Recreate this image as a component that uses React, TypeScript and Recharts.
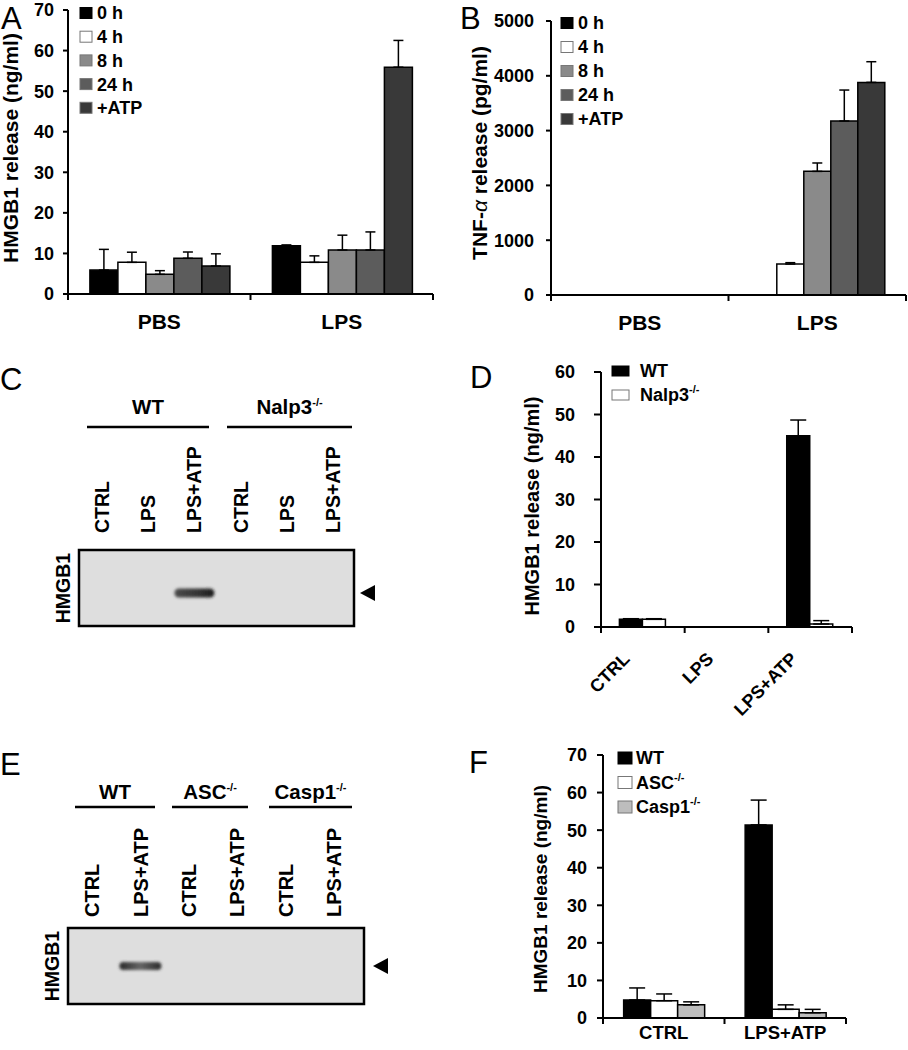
import React from 'react';
import { BarChart, Bar, XAxis, YAxis, ErrorBar } from 'recharts';

const FONT = "'Liberation Sans', Arial, Helvetica, sans-serif";

// ---------- Panel A: HMGB1 release (ng/ml) ----------
const aCategories = ['PBS', 'LPS'];
const timeLabels = ['0 h', '4 h', '8 h', '24 h', '+ATP'];
const timeColors = ['#000000', '#ffffff', '#8a8a8a', '#5c5c5c', '#393939'];
const aMean0h = [5.9, 11.9];
const aMean4h = [7.8, 7.8];
const aMean8h = [4.85, 10.85];
const aMean24h = [8.8, 10.85];
const aMeanATP = [6.9, 55.9];
const aErr0h = [5.1, 0.2];
const aErr4h = [2.5, 1.6];
const aErr8h = [0.9, 3.65];
const aErr24h = [1.55, 4.45];
const aErrATP = [3.0, 6.6];
const aTicks = [0, 10, 20, 30, 40, 50, 60, 70];

// ---------- Panel B: TNF-alpha release (pg/ml) ----------
const bCategories = ['PBS', 'LPS'];
const bMean0h = [0, 0];
const bMean4h = [0, 565];
const bMean8h = [0, 2256];
const bMean24h = [0, 3175];
const bMeanATP = [0, 3880];
const bErr0h = [0, 0];
const bErr4h = [0, 25];
const bErr8h = [0, 153];
const bErr24h = [0, 565];
const bErrATP = [0, 377];
const bTicks = [0, 1000, 2000, 3000, 4000, 5000];

// ---------- Panel D ----------
const dCategories = ['CTRL', 'LPS', 'LPS+ATP'];
const dSeries = ['WT', 'Nalp3'];
const dColors = ['#000000', '#ffffff'];
const dWT = [1.8, 0, 45.0];
const dWTErr = [0.15, 0, 3.7];
const dKO = [1.8, 0, 0.7];
const dKOErr = [0.15, 0, 0.8];
const dTicks = [0, 10, 20, 30, 40, 50, 60];

// ---------- Panel F ----------
const fCategories = ['CTRL', 'LPS+ATP'];
const fSeries = ['WT', 'ASC', 'Casp1'];
const fColors = ['#000000', '#ffffff', '#bdbdbd'];
const fWT = [4.8, 51.4];
const fWTErr = [3.2, 6.6];
const fASC = [4.6, 2.3];
const fASCErr = [1.8, 1.2];
const fCasp = [3.5, 1.4];
const fCaspErr = [0.8, 0.9];
const fTicks = [0, 10, 20, 30, 40, 50, 60, 70];

// ---------- Blots ----------
const cLanes = ['CTRL', 'LPS', 'LPS+ATP', 'CTRL', 'LPS', 'LPS+ATP'];
const cBand = [0, 0, 1, 0, 0, 0];
const eLanes = ['CTRL', 'LPS+ATP', 'CTRL', 'LPS+ATP', 'CTRL', 'LPS+ATP'];
const eBand = [0, 1, 0, 0, 0, 0];

const build = (cats: string[], means: number[][], errs: number[][]) =>
  cats.map((c, i) => {
    const row: any = { cat: c };
    means.forEach((m, k) => {
      row['v' + k] = m[i];
      row['e' + k] = [0, errs[k][i]];
    });
    return row;
  });

const dataA = build(aCategories, [aMean0h, aMean4h, aMean8h, aMean24h, aMeanATP], [aErr0h, aErr4h, aErr8h, aErr24h, aErrATP]);
const dataB = build(bCategories, [bMean0h, bMean4h, bMean8h, bMean24h, bMeanATP], [bErr0h, bErr4h, bErr8h, bErr24h, bErrATP]);
const dataD = build(dCategories, [dWT, dKO], [dWTErr, dKOErr]);
const dataF = build(fCategories, [fWT, fASC, fCasp], [fWTErr, fASCErr, fCaspErr]);

function CatTick(props: any) {
  const { x, y, payload, index, visibleTicksCount, count, labelDy = 30, fontSize = 20, rotated = false, tickLen = 6, rdx = -12, rdy = 33 } = props;
  const off = payload && typeof payload.offset === 'number' ? payload.offset : 0;
  const n = typeof visibleTicksCount === 'number' ? visibleTicksCount : count;
  const isLast = index === n - 1;
  const label = payload ? payload.value : '';
  return (
    <g>
      <line x1={x - off} x2={x - off} y1={y} y2={y + tickLen} stroke="#000" strokeWidth={2} />
      {isLast && <line x1={x + off} x2={x + off} y1={y} y2={y + tickLen} stroke="#000" strokeWidth={2} />}
      {rotated ? (
        <text
          x={x + rdx}
          y={y + rdy}
          transform={`rotate(-45 ${x + rdx} ${y + rdy})`}
          textAnchor="end"
          fontFamily={FONT}
          fontWeight={700}
          fontSize={fontSize}
          fill="#000"
        >
          {label}
        </text>
      ) : (
        <text x={x} y={y + labelDy} textAnchor="middle" fontFamily={FONT} fontWeight={700} fontSize={fontSize} fill="#000">
          {label}
        </text>
      )}
    </g>
  );
}

const axisStyle = { stroke: '#000', strokeWidth: 2 };
const yTick = (fs: number) => ({ fill: '#000', fontSize: fs, fontWeight: 700, fontFamily: FONT });

function Sup({ base, sup = '-/-' }: { base: string; sup?: string }) {
  return (
    <>
      {base}
      <tspan fontSize={11} dy={-8}>{sup}</tspan>
    </>
  );
}

function Legend({ labels, colors, x, y0, dy, w, h, tx, fs, sups }: any) {
  return (
    <g fontFamily={FONT} fontWeight={700} fontSize={fs}>
      {labels.map((l: string, i: number) => (
        <g key={i}>
          <rect x={x} y={y0 + i * dy - h / 2} width={w} height={h} fill={colors[i]} stroke={colors[i] === '#000000' ? '#000' : '#777'} strokeWidth={1} />
          <text x={tx} y={y0 + i * dy + fs * 0.36} fill="#000">
            {sups && sups[i] ? <Sup base={l} /> : l}
          </text>
        </g>
      ))}
    </g>
  );
}

function Blot({ lanes, bands, laneX0, laneDx, laneBottom, laneFs, box, bandY, bandW, bandH, arrowX, groups, groupY, lineY, labelX, gradId }: any) {
  return (
    <g fontFamily={FONT} fontWeight={700}>
      {groups.map((g: any, i: number) => (
        <g key={i}>
          <text x={(g.x1 + g.x2) / 2} y={groupY} textAnchor="middle" fontSize={20.5} fill="#000">
            {g.sup ? <Sup base={g.name} /> : g.name}
          </text>
          <line x1={g.x1} x2={g.x2} y1={lineY} y2={lineY} stroke="#000" strokeWidth={2.5} />
        </g>
      ))}
      {lanes.map((l: string, i: number) => {
        const lx = laneX0 + i * laneDx + laneFs * 0.36;
        return (
          <text key={i} x={lx} y={laneBottom} transform={`rotate(-90 ${lx} ${laneBottom})`} textAnchor="start" fontSize={laneFs} fill="#000">
            {l}
          </text>
        );
      })}
      <rect x={box.x} y={box.y} width={box.w} height={box.h} fill="#dedede" stroke="#000" strokeWidth={2.5} />
      {bands.map((b: number, i: number) =>
        b > 0 ? (
          <rect
            key={i}
            x={laneX0 + i * laneDx - bandW / 2}
            y={bandY - bandH / 2}
            width={bandW}
            height={bandH}
            rx={bandH / 2}
            fill={`url(#${gradId})`}
            filter="url(#blur)"
          />
        ) : null
      )}
      <polygon points={`${arrowX},${bandY} ${arrowX + 15},${bandY - 8} ${arrowX + 15},${bandY + 8}`} fill="#000" />
      <text x={labelX + 7} y={box.y + box.h / 2} transform={`rotate(-90 ${labelX + 7} ${box.y + box.h / 2})`} textAnchor="middle" fontSize={19.5} fill="#000">
        HMGB1
      </text>
    </g>
  );
}

export default function App() {
  return (
    <div style={{ position: 'absolute', left: 0, top: 0, width: 908, height: 1050, background: '#fff', fontFamily: FONT }}>
      {/* Panel A */}
      <div style={{ position: 'absolute', left: 0, top: 0 }}>
        <BarChart width={454} height={340} data={dataA} margin={{ top: 10, right: 21, bottom: 6, left: 0 }} barCategoryGap="12%" barGap={0}>
          <XAxis dataKey="cat" height={40} interval={0} axisLine={axisStyle} tickLine={false} tickSize={0} tickMargin={0} tick={<CatTick labelDy={35} fontSize={21} count={2} />} />
          <YAxis width={68} type="number" domain={[0, 70]} ticks={aTicks} interval={0} axisLine={axisStyle} tickLine={axisStyle} tickSize={5} tickMargin={9} tick={yTick(18)} />
          {timeLabels.map((t, k) => (
            <Bar key={t} dataKey={'v' + k} name={t} fill={timeColors[k]} stroke="#000" strokeWidth={1.5} isAnimationActive={false}>
              <ErrorBar dataKey={'e' + k} width={5} stroke="#000" strokeWidth={1.5} direction="y" />
            </Bar>
          ))}
        </BarChart>
      </div>

      {/* Panel B */}
      <div style={{ position: 'absolute', left: 454, top: 0 }}>
        <BarChart width={454} height={340} data={dataB} margin={{ top: 21, right: 2, bottom: 5, left: 0 }} barCategoryGap="12%" barGap={0}>
          <XAxis dataKey="cat" height={40} interval={0} axisLine={axisStyle} tickLine={false} tickSize={0} tickMargin={0} tick={<CatTick labelDy={35} fontSize={21} count={2} />} />
          <YAxis width={97} type="number" domain={[0, 5000]} ticks={bTicks} interval={0} axisLine={axisStyle} tickLine={axisStyle} tickSize={5} tickMargin={12} tick={yTick(18)} />
          {timeLabels.map((t, k) => (
            <Bar key={t} dataKey={'v' + k} name={t} fill={timeColors[k]} stroke="#000" strokeWidth={1.5} isAnimationActive={false}>
              <ErrorBar dataKey={'e' + k} width={5} stroke="#000" strokeWidth={1.5} direction="y" />
            </Bar>
          ))}
        </BarChart>
      </div>

      {/* Panel D */}
      <div style={{ position: 'absolute', left: 454, top: 330 }}>
        <BarChart width={454} height={400} data={dataD} margin={{ top: 42, right: 56, bottom: 0, left: 0 }} barCategoryGap="22%" barGap={0}>
          <XAxis dataKey="cat" height={103} interval={0} axisLine={axisStyle} tickLine={false} tickSize={0} tickMargin={0} tick={<CatTick rotated fontSize={18} count={3} tickLen={6} rdx={-12} rdy={33} />} />
          <YAxis width={147} type="number" domain={[0, 60]} ticks={dTicks} interval={0} axisLine={axisStyle} tickLine={axisStyle} tickSize={7} tickMargin={19} tick={yTick(18)} />
          {dSeries.map((s, k) => (
            <Bar key={s} dataKey={'v' + k} name={s} fill={dColors[k]} stroke="#000" strokeWidth={1.5} isAnimationActive={false}>
              <ErrorBar dataKey={'e' + k} width={8} stroke="#000" strokeWidth={1.5} direction="y" />
            </Bar>
          ))}
        </BarChart>
      </div>

      {/* Panel F */}
      <div style={{ position: 'absolute', left: 454, top: 690 }}>
        <BarChart width={454} height={360} data={dataF} margin={{ top: 65, right: 62, bottom: 2, left: 0 }} barCategoryGap="17%" barGap={0}>
          <XAxis dataKey="cat" height={30} interval={0} axisLine={axisStyle} tickLine={false} tickSize={0} tickMargin={0} tick={<CatTick labelDy={21} fontSize={18.5} count={2} />} />
          <YAxis width={149} type="number" domain={[0, 70]} ticks={fTicks} interval={0} axisLine={axisStyle} tickLine={axisStyle} tickSize={6} tickMargin={10} tick={yTick(18)} />
          {fSeries.map((s, k) => (
            <Bar key={s} dataKey={'v' + k} name={s} fill={fColors[k]} stroke="#000" strokeWidth={1.5} isAnimationActive={false}>
              <ErrorBar dataKey={'e' + k} width={8} stroke="#000" strokeWidth={1.5} direction="y" />
            </Bar>
          ))}
        </BarChart>
      </div>

      {/* Annotations overlay */}
      <svg width={908} height={1050} style={{ position: 'absolute', left: 0, top: 0, pointerEvents: 'none' }}>
        <defs>
          <filter id="blur" x="-30%" y="-100%" width="160%" height="300%">
            <feGaussianBlur stdDeviation="1.6" />
          </filter>
          <linearGradient id="bandC" x1="0" x2="1" y1="0" y2="0">
            <stop offset="0" stopColor="#4a4a4a" />
            <stop offset="0.6" stopColor="#333" />
            <stop offset="1" stopColor="#1a1a1a" />
          </linearGradient>
          <linearGradient id="bandE" x1="0" x2="1" y1="0" y2="0">
            <stop offset="0" stopColor="#2a2a2a" />
            <stop offset="0.5" stopColor="#666" />
            <stop offset="1" stopColor="#2a2a2a" />
          </linearGradient>
        </defs>

        {/* panel letters */}
        <g fontFamily={FONT} fontSize={31} fill="#000">
          <text x={1} y={29}>A</text>
          <text x={460} y={29}>B</text>
          <text x={0} y={390}>C</text>
          <text x={470} y={388}>D</text>
          <text x={0} y={775}>E</text>
          <text x={469} y={773}>F</text>
        </g>

        {/* axis titles */}
        <g fontFamily={FONT} fontWeight={700} fill="#000">
          <text x={18} y={148} transform="rotate(-90 18 148)" textAnchor="middle" fontSize={21}>HMGB1 release (ng/ml)</text>
          <text x={487} y={153} transform="rotate(-90 487 153)" textAnchor="middle" fontSize={21}>
            TNF-<tspan fontStyle="italic" fontWeight={400}>α</tspan> release (pg/ml)
          </text>
          <text x={539} y={506} transform="rotate(-90 539 506)" textAnchor="middle" fontSize={20}>HMGB1 release (ng/ml)</text>
          <text x={547} y={889} transform="rotate(-90 547 889)" textAnchor="middle" fontSize={19}>HMGB1 release (ng/ml)</text>
        </g>

        {/* legends */}
        <Legend labels={timeLabels} colors={timeColors} x={80} y0={13} dy={23.7} w={12} h={11} tx={97} fs={18} />
        <Legend labels={timeLabels} colors={timeColors} x={561} y0={23} dy={24} w={12} h={11} tx={578} fs={18} />
        <Legend labels={['WT', 'Nalp3']} colors={dColors} x={612} y0={371} dy={24} w={17} h={10} tx={640} fs={18} sups={[false, true]} />
        <Legend labels={['WT', 'ASC', 'Casp1']} colors={fColors} x={618} y0={758} dy={24.5} w={14} h={12} tx={636} fs={18} sups={[false, true, true]} />

        {/* blot C */}
        <Blot
          lanes={cLanes}
          bands={cBand}
          laneX0={102}
          laneDx={46.2}
          laneBottom={533}
          laneFs={19.5}
          box={{ x: 79, y: 550, w: 275, h: 76 }}
          bandY={593}
          bandW={40}
          bandH={9}
          arrowX={360}
          groups={[
            { name: 'WT', x1: 87, x2: 209 },
            { name: 'Nalp3', x1: 227, x2: 352, sup: true },
          ]}
          groupY={414}
          lineY={427}
          labelX={63}
          gradId="bandC"
        />

        {/* blot E */}
        <Blot
          lanes={eLanes}
          bands={eBand}
          laneX0={92}
          laneDx={48.4}
          laneBottom={917}
          laneFs={20}
          box={{ x: 68, y: 928, w: 296, h: 76 }}
          bandY={966}
          bandW={42}
          bandH={8}
          arrowX={373}
          groups={[
            { name: 'WT', x1: 75, x2: 155 },
            { name: 'ASC', x1: 172, x2: 248, sup: true },
            { name: 'Casp1', x1: 269, x2: 352, sup: true },
          ]}
          groupY={799}
          lineY={807}
          labelX={52}
          gradId="bandE"
        />
      </svg>
    </div>
  );
}
